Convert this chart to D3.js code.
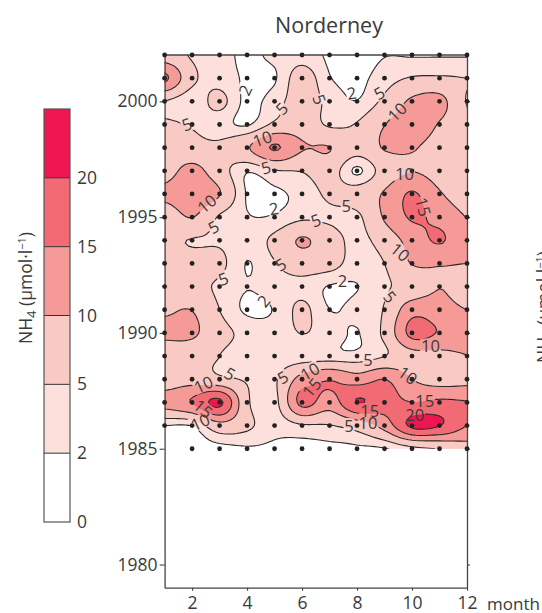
<!DOCTYPE html>
<html>
<head>
<meta charset="utf-8">
<script src="https://cdn.jsdelivr.net/npm/d3@7"></script>
<style>
    html, body { margin: 0; padding: 0; background: #fff; overflow: hidden; }
    svg { display: block; }
    text { font-family: "Open Sans", sans-serif; fill: #3a3a3a; }
</style>
</head>
<body>
<svg width="542" height="613"></svg>
<script>
const svg = d3.select('svg');

const months = [1, 2, 3, 4, 5, 6, 7, 8, 9, 10, 11, 12];
const years = [2002, 2001, 2000, 1999, 1998, 1997, 1996, 1995, 1994, 1993, 1992, 1991, 1990, 1989, 1988, 1987, 1986, 1985];
const nh4 = [
    [7, 4.6, 3, 1.5, 2.6, 3.5, 1.5, 0.7, 1.9, 1.8, 1.8, 1.8],
    [16, 6, 3.6, 1.6, 1.7, 7, 2.2, 1.2, 3.5, 5.3, 5.5, 5],
    [4.8, 3, 6, 1.2, 3.5, 7, 4, 2.1, 6, 10.8, 11.5, 4.8],
    [5.5, 4.7, 3.2, 1.7, 5.8, 7.5, 4.5, 5.3, 9.9, 12, 9.7, 6],
    [6.5, 6.5, 6, 9.5, 15.5, 10.4, 10.1, 7, 10.3, 10.3, 8.5, 7],
    [8, 11.5, 7, 2.3, 4.7, 5.2, 7, 1.5, 7, 9.8, 8, 7],
    [11, 13, 10.2, 1.7, 1.5, 3, 5.8, 7, 10.5, 15.5, 10.5, 7.5],
    [7, 10.1, 4.5, 2.2, 2.3, 4.3, 4.3, 4.2, 10.5, 15.5, 13.5, 9.9],
    [6, 4.8, 4.5, 3, 6, 10.5, 7, 4, 7, 12, 15.5, 11],
    [7, 7, 6, 1.9, 4.8, 7, 6.5, 3.5, 5, 10.2, 10.3, 10],
    [7, 6.5, 4.3, 2.1, 3.5, 4, 1.8, 1.9, 4.5, 6.5, 9.9, 7.5],
    [9.3, 9.9, 5, 1.5, 2.2, 5.8, 2, 3, 5.3, 13, 12, 10],
    [11, 10.8, 6.5, 4, 3.2, 5.1, 3.5, 1.85, 6, 16.5, 14.6, 12],
    [7, 7, 5, 3.5, 3, 3, 3, 3, 4.9, 8, 8.5, 9.9],
    [7, 8, 6, 4.7, 4.5, 12, 14.8, 12.5, 15, 10.1, 8, 8.5],
    [12, 15.3, 21, 5.8, 3.8, 16.5, 12.5, 20.1, 17, 15.1, 16, 15.3],
    [2, 2.2, 8, 5.8, 3, 4.5, 4.8, 7, 12, 21, 20.2, 15],
    [0.5, 0.5, 1, 1.7, 1.5, 1.2, 1.3, 1.5, 1.8, 4, 5.3, 8]
];
const levels = [2, 5, 10, 15, 20];
const levelColors = ['#fde0dc', '#f9c9c4', '#f69a98', '#f26a73', '#ee1650'];
const yearTicks = [1980, 1985, 1990, 1995, 2000];
const monthTicks = [2, 4, 6, 8, 10, 12];
const legendTicks = [0, 2, 5, 10, 15, 20];

// [text, month, year, angle]
const contourLabels = [
    ['2', 3.92, 2000.49, -65], ['5', 5.25, 1999.7, -45], ['5', 6.64, 2000.09, 70],
    ['2', 7.8, 2000.37, -10], ['5', 8.8, 2000.37, -30], ['10', 9.45, 1999.55, -45],
    ['5', 1.8, 1999.02, -20], ['10', 4.55, 1998.4, -20], ['5', 4.68, 1997.15, -15],
    ['10', 9.73, 1996.89, 0], ['15', 10.42, 1995.45, 75], ['10', 2.53, 1995.59, -40],
    ['2', 4.97, 1995.38, -10], ['5', 7.61, 1995.49, 0], ['5', 6.5, 1994.87, -20],
    ['5', 2.77, 1994.58, -30], ['10', 9.58, 1993.5, 40], ['5', 3.13, 1992.35, -20],
    ['5', 5.22, 1992.97, -30], ['2', 7.47, 1992.25, 0], ['2', 4.59, 1991.39, -50],
    ['5', 9.21, 1991.56, 50], ['10', 10.67, 1989.44, 0], ['5', 8.4, 1988.85, 0],
    ['5', 3.38, 1988.25, 30], ['5', 5.29, 1988.1, -30], ['10', 6.28, 1988.35, -30],
    ['10', 9.85, 1988.18, 35], ['15', 6.34, 1987.65, -50], ['10', 2.41, 1987.79, -25],
    ['15', 2.41, 1986.74, 40], ['10', 2.29, 1986.16, -25], ['15', 10.46, 1987.1, 0],
    ['20', 10.1, 1986.49, 0], ['15', 8.46, 1986.66, 0], ['10', 8.4, 1986.12, 0],
    ['5', 7.71, 1986.0, 0]
];

const xScale = d3.scaleLinear().domain([1, 12]).range([164.6, 467]);
const yScale = d3.scaleLinear().domain([1979, 2002]).range([587.7, 55]);

// catmull-rom resampling of the grid, only so the contour lines come out round
const cubic = (a, b, c, d, t) =>
    0.5 * (2 * b + (c - a) * t + (2 * a - 5 * b + 4 * c - d) * t * t + (3 * b - a - 3 * c + d) * t * t * t);

const resample = (rows, k) => {
    const nx = rows[0].length, ny = rows.length;
    const w = (nx - 1) * k + 1, h = (ny - 1) * k + 1;
    const at = (i, j) => rows[Math.max(0, Math.min(ny - 1, j))][Math.max(0, Math.min(nx - 1, i))];
    const out = new Array(w * h);
    for (let y = 0; y < h; y++) {
        const j = Math.floor(y / k), v = y / k - j;
        for (let x = 0; x < w; x++) {
            const i = Math.floor(x / k), u = x / k - i;
            const col = [-1, 0, 1, 2].map(n =>
                cubic(at(i - 1, j + n), at(i, j + n), at(i + 1, j + n), at(i + 2, j + n), u));
            out[y * w + x] = cubic(col[0], col[1], col[2], col[3], v);
        }
    }
    return { values: out, w, h };
};

const k = 8;
const fine = resample(nh4, k);
const contours = d3.contours().size([fine.w, fine.h]).thresholds(levels)(fine.values);

const toChart = d3.geoTransform({
    point(x, y) {
        this.stream.point(xScale(1 + (x - 0.5) / k), yScale(2002 - (y - 0.5) / k));
    }
});
const path = d3.geoPath(toChart);

const defs = svg.append('defs');
defs.append('clipPath').attr('id', 'grid-clip').append('rect')
    .attr('x', xScale(1))
    .attr('y', yScale(2002))
    .attr('width', xScale(12) - xScale(1))
    .attr('height', yScale(1985) - yScale(2002));

const labelBox = d => {
    const w = d[0].length > 1 ? 21 : 11;
    return { w, h: 15 };
};

const mask = defs.append('mask').attr('id', 'label-mask').attr('maskUnits', 'userSpaceOnUse')
    .attr('x', 0).attr('y', 0).attr('width', 542).attr('height', 613);
mask.append('rect').attr('width', 542).attr('height', 613).attr('fill', '#fff');
mask.selectAll('rect.hole').data(contourLabels)
    .enter().append('rect')
        .attr('class', 'hole')
        .attr('x', d => -labelBox(d).w / 2)
        .attr('y', d => -labelBox(d).h / 2)
        .attr('width', d => labelBox(d).w)
        .attr('height', d => labelBox(d).h)
        .attr('fill', '#000')
        .attr('transform', d => `translate(${xScale(d[1])}, ${yScale(d[2])}) rotate(${d[3]})`);

const plot = svg.append('g').attr('clip-path', 'url(#grid-clip)');

plot.append('g').selectAll('path').data(contours)
    .enter().append('path')
        .attr('d', path)
        .attr('fill', (d, i) => levelColors[i])
        .attr('stroke', 'none');

plot.append('g').attr('mask', 'url(#label-mask)').selectAll('path').data(contours)
    .enter().append('path')
        .attr('d', path)
        .attr('fill', 'none')
        .attr('stroke', '#2a2a2a')
        .attr('stroke-width', 1.1);

// axes
const axisStyle = g => {
    g.selectAll('path.domain').attr('stroke', '#444').attr('stroke-width', 1.3);
    g.selectAll('.tick line').attr('stroke', '#444').attr('stroke-width', 1.1);
    g.selectAll('.tick text').attr('font-size', 17.5).attr('font-family', '"Open Sans", sans-serif').attr('fill', '#3a3a3a');
};

svg.append('g')
    .attr('transform', `translate(${xScale(1)}, 0)`)
    .call(d3.axisLeft(yScale).tickValues(yearTicks).tickFormat(d3.format('d')).tickSize(5).tickSizeOuter(0).tickPadding(2))
    .call(axisStyle);

svg.append('g')
    .attr('transform', `translate(${xScale(12)}, 0)`)
    .call(d3.axisRight(yScale).tickValues(yearTicks).tickFormat('').tickSize(3).tickSizeOuter(0))
    .call(axisStyle);

svg.append('g')
    .attr('transform', `translate(0, ${yScale(1979)})`)
    .call(d3.axisBottom(xScale).tickValues(monthTicks).tickFormat(d3.format('d')).tickSize(3).tickSizeOuter(0).tickPadding(6))
    .call(axisStyle);

svg.append('line')
    .attr('x1', xScale(1)).attr('x2', xScale(12))
    .attr('y1', yScale(2002)).attr('y2', yScale(2002))
    .attr('stroke', '#444').attr('stroke-width', 1.6);

svg.append('text')
    .attr('x', xScale(12) + 20)
    .attr('y', yScale(1979) + 22.5)
    .attr('font-size', 17)
    .text('month');

// sample dots, the first month of 1985 has none
const samples = d3.cross(years, months)
    .filter(([y, m]) => !(y === 1985 && m === 1));

svg.append('g').selectAll('circle').data(samples)
    .enter().append('circle')
        .attr('cx', d => xScale(d[1]))
        .attr('cy', d => yScale(d[0]))
        .attr('r', 2.4)
        .attr('fill', '#222');

svg.append('g').selectAll('text').data(contourLabels)
    .enter().append('text')
        .attr('transform', d => `translate(${xScale(d[1])}, ${yScale(d[2])}) rotate(${d[3]})`)
        .attr('text-anchor', 'middle')
        .attr('dominant-baseline', 'central')
        .attr('font-size', 16.5)
        .text(d => d[0]);

svg.append('text')
    .attr('x', 329)
    .attr('y', 33)
    .attr('text-anchor', 'middle')
    .attr('font-size', 21.5)
    .text('Norderney');

// colour bar, the classes are evenly spaced whatever their values
const legendScale = d3.scalePoint()
    .domain(legendTicks.concat(['top']))
    .range([522, 109]);
const legendX = 44, legendW = 26;

const legend = svg.append('g');
legend.selectAll('rect').data(levels)
    .enter().append('rect')
        .attr('x', legendX)
        .attr('y', (d, i) => legendScale(i < levels.length - 1 ? levels[i + 1] : 'top'))
        .attr('width', legendW)
        .attr('height', (d, i) => legendScale(d) - legendScale(i < levels.length - 1 ? levels[i + 1] : 'top'))
        .attr('fill', (d, i) => levelColors[i]);

legend.selectAll('line').data(levels)
    .enter().append('line')
        .attr('x1', legendX).attr('x2', legendX + legendW)
        .attr('y1', d => legendScale(d)).attr('y2', d => legendScale(d))
        .attr('stroke', '#333').attr('stroke-width', 1);

legend.append('rect')
    .attr('x', legendX).attr('y', legendScale('top'))
    .attr('width', legendW).attr('height', legendScale(0) - legendScale('top'))
    .attr('fill', 'none')
    .attr('stroke', '#555').attr('stroke-width', 1.2);

legend.selectAll('text').data(legendTicks)
    .enter().append('text')
        .attr('x', 77)
        .attr('y', d => legendScale(d))
        .attr('dy', '0.35em')
        .attr('font-size', 17.5)
        .text(d => d);

const unitLabel = (x, y) => {
    const t = svg.append('text')
        .attr('transform', `translate(${x}, ${y}) rotate(-90)`)
        .attr('text-anchor', 'middle')
        .attr('font-size', 17.5);
    t.append('tspan').text('NH');
    t.append('tspan').attr('font-size', 13).attr('dy', 4).text('4');
    t.append('tspan').attr('dy', -4).text(' (µmol·l');
    t.append('tspan').attr('font-size', 11).attr('dy', -6).text('−1');
    t.append('tspan').attr('dy', 6).text(')');
};
unitLabel(32, 288);
unitLabel(550, 307);
</script>
</body>
</html>
